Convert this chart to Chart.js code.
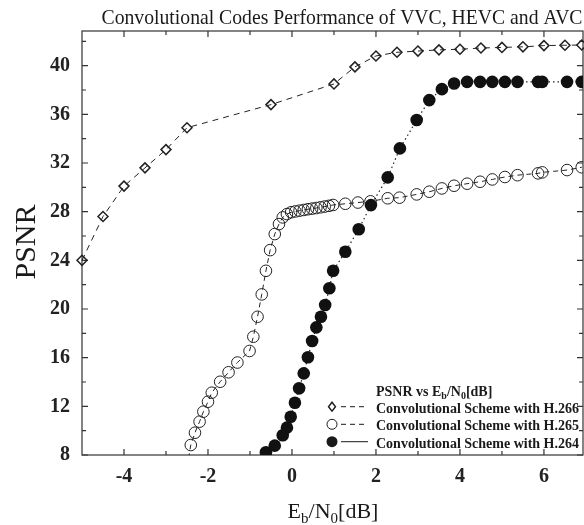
<!DOCTYPE html>
<html lang="en">
<head>
<meta charset="UTF-8">
<title>Convolutional Codes Performance of VVC, HEVC and AVC</title>
<script src="https://cdn.jsdelivr.net/npm/chart.js"></script>
<style>
  html, body { margin: 0; padding: 0; background: #fff; }
  #wrap { width: 584px; height: 525px; }
</style>
</head>
<body>
<div id="wrap"><canvas id="psnrChart"></canvas></div>
<script>
const serif = '"Liberation Serif", "Times New Roman", serif';

// axis ticks
const xTicks = [-4, -2, 0, 2, 4, 6];
const xMinor = [-3, -1, 1, 3, 5];
const yTicks = [8, 12, 16, 20, 24, 28, 32, 36, 40];
const yMinor = [10, 14, 18, 22, 26, 30, 34, 38, 42];

// Convolutional scheme with H.266 (VVC)
const h266X = [-5.0, -4.5, -4.0, -3.5, -3.0, -2.5, -0.5, 1.0, 1.5, 2.0, 2.5, 3.0, 3.5, 4.0, 4.5, 5.0, 5.5, 6.0, 6.5, 6.9];
const h266Y = [24.0, 27.6, 30.1, 31.6, 33.1, 34.9, 36.8, 38.5, 39.9, 40.8, 41.1, 41.2, 41.3, 41.35, 41.45, 41.5, 41.55, 41.65, 41.68, 41.7];

// Convolutional scheme with H.265 (HEVC)
const h265X = [-2.5, -2.41, -2.31, -2.2, -2.11, -2.0, -1.91, -1.71, -1.51, -1.3, -1.01, -0.92, -0.82, -0.72, -0.62, -0.52, -0.41, -0.31, -0.22, -0.12,
  -0.02, 0.08, 0.18, 0.28, 0.38, 0.48, 0.58, 0.68, 0.78, 0.88, 0.98, 1.27, 1.57, 1.87, 2.28, 2.56, 2.97, 3.27, 3.57, 3.86, 4.17,
  4.48, 4.77, 5.07, 5.37, 5.86, 5.96, 6.55, 6.9];
const h265Y = [7.0, 8.82, 9.83, 10.74, 11.56, 12.38, 13.12, 14.02, 14.8, 15.6, 16.55, 17.72, 19.36, 21.2, 23.14, 24.84, 26.16, 26.98, 27.53, 27.8,
  27.95, 28.02, 28.08, 28.14, 28.2, 28.25, 28.3, 28.36, 28.42, 28.48, 28.55, 28.65, 28.75, 28.85, 29.1, 29.15, 29.42, 29.64, 29.91, 30.13, 30.3,
  30.46, 30.65, 30.85, 31.0, 31.15, 31.23, 31.42, 31.65];

// Convolutional scheme with H.264 (AVC)
const h264X = [-0.62, -0.41, -0.22, -0.12, -0.03, 0.07, 0.17, 0.28, 0.38, 0.48, 0.58, 0.69, 0.79, 0.89, 0.98, 1.27, 1.59, 1.88,
  2.28, 2.57, 2.97, 3.27, 3.57, 3.86, 4.17, 4.48, 4.77, 5.07, 5.37, 5.86, 5.96, 6.55, 6.9];
const h264Y = [8.22, 8.77, 9.62, 10.25, 11.15, 12.3, 13.48, 14.71, 16.03, 17.37, 18.49, 19.36, 20.33, 21.7, 23.14, 24.7, 26.55, 28.54,
  30.82, 33.2, 35.53, 37.17, 38.07, 38.54, 38.67, 38.67, 38.67, 38.67, 38.67, 38.67, 38.67, 38.67, 38.67];

const seriesNames = ['Convolutional Scheme with H.266', 'Convolutional Scheme with H.265', 'Convolutional Scheme with H.264'];

function toPoints(xs, ys) {
  return xs.map((x, i) => ({ x: x, y: ys[i] }));
}

// draws text with subscripts; parts = [[text, isSub], ...]
function drawRich(ctx, parts, x, y, size, weight, align) {
  const subSize = Math.round(size * 0.68);
  let total = 0;
  parts.forEach(p => {
    ctx.font = weight + ' ' + (p[1] ? subSize : size) + 'px ' + serif;
    total += ctx.measureText(p[0]).width;
  });
  let cx = align === 'center' ? x - total / 2 : x;
  ctx.textAlign = 'left';
  ctx.textBaseline = 'alphabetic';
  parts.forEach(p => {
    ctx.font = weight + ' ' + (p[1] ? subSize : size) + 'px ' + serif;
    ctx.fillText(p[0], cx, p[1] ? y + size * 0.22 : y);
    cx += ctx.measureText(p[0]).width;
  });
}

const framePlugin = {
  id: 'frame',
  beforeDatasetsDraw(chart) {
    const { ctx, chartArea: a, scales: { x, y } } = chart;
    ctx.save();
    ctx.strokeStyle = '#333';
    ctx.lineWidth = 1.2;
    ctx.strokeRect(a.left, a.top, a.right - a.left, a.bottom - a.top);
    ctx.beginPath();
    const xt = (v, len) => {
      const px = x.getPixelForValue(v);
      ctx.moveTo(px, a.bottom); ctx.lineTo(px, a.bottom - len);
      ctx.moveTo(px, a.top); ctx.lineTo(px, a.top + len);
    };
    const yt = (v, len) => {
      const py = y.getPixelForValue(v);
      ctx.moveTo(a.left, py); ctx.lineTo(a.left + len, py);
      ctx.moveTo(a.right, py); ctx.lineTo(a.right - len, py);
    };
    xTicks.forEach(v => xt(v, 6));
    xMinor.forEach(v => xt(v, 4));
    yTicks.forEach(v => yt(v, 6));
    yMinor.forEach(v => yt(v, 4));
    ctx.stroke();
    ctx.restore();
  },
  afterDraw(chart) {
    const ctx = chart.ctx;
    ctx.save();
    ctx.fillStyle = '#1a1a1a';

    // title, a little condensed like the original figure
    const title = 'Convolutional Codes Performance of VVC, HEVC and AVC';
    ctx.font = '22px ' + serif;
    const tw = ctx.measureText(title).width;
    const sx = Math.min(1, 481 / tw);
    ctx.save();
    ctx.translate(342, 24);
    ctx.scale(sx, 1);
    ctx.textAlign = 'center';
    ctx.textBaseline = 'alphabetic';
    ctx.fillText(title, 0, 0);
    ctx.restore();

    // y axis title
    ctx.save();
    ctx.translate(35, 242);
    ctx.rotate(-Math.PI / 2);
    ctx.font = '30px ' + serif;
    ctx.textAlign = 'center';
    ctx.textBaseline = 'alphabetic';
    ctx.fillText('PSNR', 0, 0);
    ctx.restore();

    // x axis title
    drawRich(ctx, [['E', false], ['b', true], ['/N', false], ['0', true], ['[dB]', false]], 333, 518, 22, 'normal', 'center');

    // legend
    const lx = 376, mx = 332;
    drawRich(ctx, [['PSNR vs E', false], ['b', true], ['/N', false], ['0', true], ['[dB]', false]], lx, 396, 14, 'bold', 'left');
    const rows = [406.7, 424.3, 441.7];
    ctx.strokeStyle = '#1a1a1a';
    rows.forEach((ry, i) => {
      // line sample
      ctx.lineWidth = 1;
      ctx.setLineDash(i < 2 ? [5, 4] : []);
      ctx.beginPath();
      ctx.moveTo(341, ry); ctx.lineTo(368, ry);
      ctx.stroke();
      ctx.setLineDash([]);
      // marker
      ctx.beginPath();
      if (i === 0) {
        ctx.lineWidth = 1.4;
        ctx.moveTo(mx, ry - 4.5); ctx.lineTo(mx + 3.5, ry); ctx.lineTo(mx, ry + 4.5); ctx.lineTo(mx - 3.5, ry); ctx.closePath();
        ctx.stroke();
      } else if (i === 1) {
        ctx.lineWidth = 1;
        ctx.arc(mx, ry, 5, 0, Math.PI * 2);
        ctx.stroke();
      } else {
        ctx.arc(mx, ry, 5.5, 0, Math.PI * 2);
        ctx.fill();
      }
      ctx.font = 'bold 14px ' + serif;
      ctx.textAlign = 'left';
      ctx.textBaseline = 'alphabetic';
      ctx.fillText(seriesNames[i], lx, ry + 6);
    });
    ctx.restore();
  }
};

const tickFont = { family: serif, size: 20, weight: 'bold' };

new Chart(document.getElementById('psnrChart'), {
  type: 'scatter',
  data: {
    datasets: [
      {
        label: seriesNames[2],
        data: toPoints(h264X, h264Y),
        showLine: true,
        borderColor: '#222',
        borderWidth: 1.2,
        borderDash: [1.5, 3],
        pointStyle: 'circle',
        pointRadius: 6.3,
        pointBackgroundColor: '#111',
        pointBorderColor: '#111',
        pointBorderWidth: 0
      },
      {
        label: seriesNames[1],
        data: toPoints(h265X, h265Y),
        showLine: true,
        borderColor: '#222',
        borderWidth: 1,
        borderDash: [5, 4],
        pointStyle: 'circle',
        pointRadius: 5.8,
        pointBackgroundColor: 'rgba(0,0,0,0)',
        pointBorderColor: '#222',
        pointBorderWidth: 1
      },
      {
        label: seriesNames[0],
        data: toPoints(h266X, h266Y),
        showLine: true,
        clip: false,
        borderColor: '#222',
        borderWidth: 1,
        borderDash: [6, 5],
        pointStyle: 'rectRot',
        pointRadius: 5,
        pointBackgroundColor: 'rgba(0,0,0,0)',
        pointBorderColor: '#222',
        pointBorderWidth: 1.5
      }
    ]
  },
  options: {
    responsive: true,
    maintainAspectRatio: false,
    animation: false,
    layout: { autoPadding: false, padding: { top: 31, right: 1, left: 0, bottom: 0 } },
    plugins: {
      legend: { display: false },
      title: { display: false },
      tooltip: { enabled: false }
    },
    scales: {
      x: {
        type: 'linear',
        min: -5,
        max: 6.93,
        grid: { display: false, drawTicks: false },
        border: { display: false },
        ticks: { font: tickFont, color: '#222', padding: 10 },
        afterBuildTicks: s => { s.ticks = xTicks.map(v => ({ value: v })); },
        afterFit: s => { s.height = 70; }
      },
      y: {
        type: 'linear',
        min: 8,
        max: 42.85,
        grid: { display: false, drawTicks: false },
        border: { display: false },
        ticks: { font: tickFont, color: '#222', padding: 12 },
        afterBuildTicks: s => { s.ticks = yTicks.map(v => ({ value: v })); },
        afterFit: s => { s.width = 82; }
      }
    }
  },
  plugins: [framePlugin]
});
</script>
</body>
</html>
